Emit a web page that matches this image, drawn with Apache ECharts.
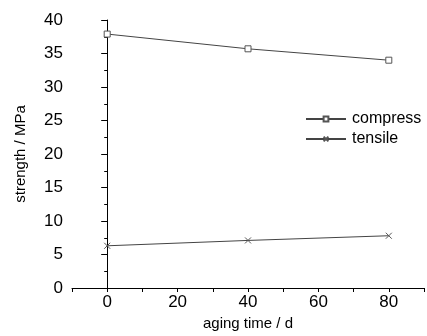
<!DOCTYPE html>
<html>
<head>
<meta charset="utf-8">
<script src="https://cdn.jsdelivr.net/npm/echarts@6/dist/echarts.min.js"></script>
<style>
  html, body { margin: 0; padding: 0; background: #fff; }
  #chart { width: 427px; height: 336px; }
</style>
</head>
<body>
<div id="chart"></div>
<script>
const agingDays = [0, 40, 80];
const compressValues = [37.9, 35.7, 34.0];
const tensileValues = [6.3, 7.1, 7.8];
const xTicks = [0, 20, 40, 60, 80];

const font = "'Liberation Sans', Arial, sans-serif";
const crossPath = 'path://M0,0L10,10M10,0L0,10';

const chart = echarts.init(document.getElementById('chart'));

chart.setOption({
  animation: false,
  textStyle: { fontFamily: font },
  grid: { left: 72, top: 20, width: 366.5, height: 268 },
  xAxis: {
    type: 'value',
    min: -10,
    max: 90,
    interval: 10,
    name: 'aging time / d',
    nameLocation: 'middle',
    nameGap: 27,
    nameTextStyle: { fontSize: 15, color: '#000', fontFamily: font },
    axisLine: { lineStyle: { color: '#000', width: 1 } },
    axisTick: { show: true, length: 4, lineStyle: { color: '#000' }, interval: 0 },
    axisLabel: {
      fontSize: 17, color: '#000', margin: 6, fontFamily: font,
      formatter: v => (xTicks.indexOf(v) >= 0 ? String(v) : '')
    },
    splitLine: { show: false }
  },
  yAxis: {
    type: 'value',
    min: 0,
    max: 40,
    interval: 5,
    name: 'strength / MPa',
    nameLocation: 'middle',
    nameGap: 44,
    nameTextStyle: { fontSize: 15, color: '#000', fontFamily: font },
    axisLine: { show: true, lineStyle: { color: '#000', width: 1 } },
    axisTick: { show: true, length: 6, lineStyle: { color: '#000' } },
    minorTick: { show: true, splitNumber: 2, length: 3, lineStyle: { color: '#000' } },
    axisLabel: { fontSize: 17, color: '#000', margin: 9, fontFamily: font },
    splitLine: { show: false }
  },
  legend: {
    orient: 'vertical',
    left: 300,
    top: 106,
    itemWidth: 40,
    itemHeight: 6,
    itemGap: 4,
    textStyle: { fontSize: 16, color: '#000', fontFamily: font, padding: [0, 0, 0, 1] },
    data: ['compress', 'tensile']
  },
  series: [
    {
      name: 'compress',
      type: 'line',
      data: agingDays.map((d, i) => [d, compressValues[i]]),
      symbol: 'rect',
      symbolSize: 6,
      itemStyle: { color: '#fff', borderColor: '#555', borderWidth: 1 },
      lineStyle: { color: '#444', width: 1 }
    },
    {
      name: 'tensile',
      type: 'line',
      data: agingDays.map((d, i) => [d, tensileValues[i]]),
      symbol: crossPath,
      symbolSize: 6,
      itemStyle: { color: 'none', borderColor: '#555', borderWidth: 1 },
      lineStyle: { color: '#444', width: 1 }
    }
  ]
});
</script>
</body>
</html>
